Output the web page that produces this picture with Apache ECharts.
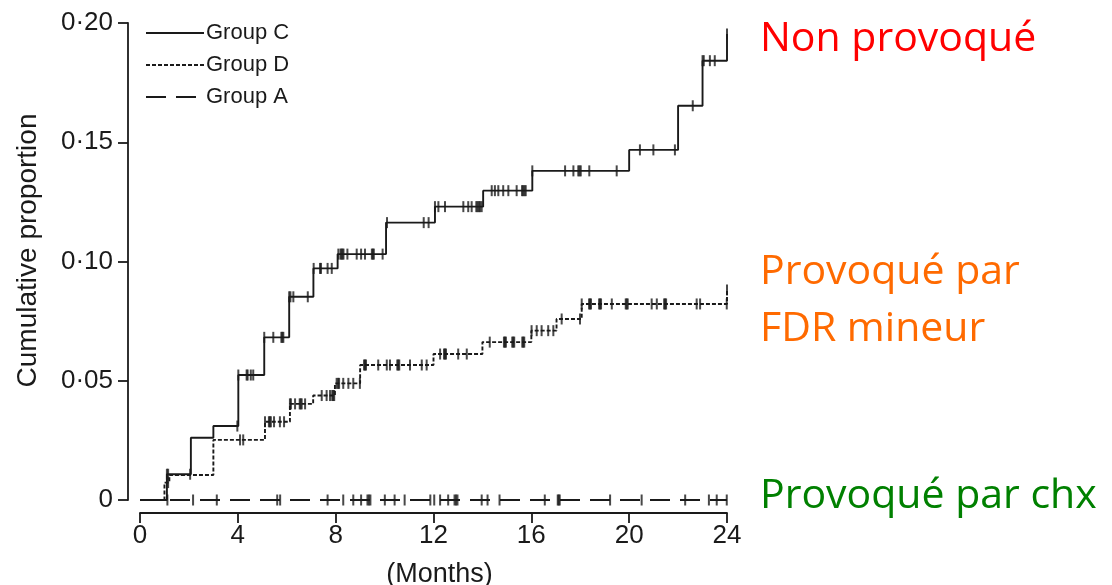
<!DOCTYPE html>
<html>
<head>
<meta charset="utf-8">
<title>Cumulative proportion</title>
<script src="https://cdn.jsdelivr.net/npm/echarts@6/dist/echarts.min.js"></script>
<style>
  html, body { margin: 0; padding: 0; background: #fff; }
  #chart { width: 1112px; height: 585px; }
</style>
</head>
<body>
<div id="chart"></div>
<script>
// step times (months) and cumulative proportion after each step
const cTimes = [0, 1.1, 2.08, 3.0, 4.02, 5.08, 6.1, 7.09, 8.08, 10.06, 12.06, 14.03, 16.04, 20.0, 22.0, 23.0, 24.0]
const cValues = [0, 0.0108, 0.0261, 0.031, 0.0524, 0.0682, 0.0852, 0.0971, 0.1031, 0.1163, 0.123, 0.1297, 0.138, 0.1468, 0.1653, 0.1842, 0.1954]

const dTimes = [0, 1.0, 1.2, 3.0, 5.11, 6.13, 7.08, 7.97, 9.0, 12.0, 14.0, 16.0, 17.03, 18.06, 24.0]
const dValues = [0, 0.0073, 0.0105, 0.0252, 0.0328, 0.0403, 0.0438, 0.0489, 0.0566, 0.0612, 0.0662, 0.071, 0.0759, 0.0822, 0.088]

const aTimes = [0, 24]
const aValues = [0, 0]

// censored observations (months)
const cCensor = [1.1, 1.15, 2.05, 3.98, 4.02, 4.36, 4.4, 4.53, 4.63, 5.08, 5.45, 5.78, 5.82, 5.86, 6.1, 6.15, 6.27, 6.86,
  7.1, 7.36, 7.4, 7.67, 7.84, 8.11, 8.2, 8.24, 8.28, 8.32, 8.48, 8.86, 9.04, 9.2, 9.48, 9.52, 9.56, 9.92, 10.1, 11.6, 11.8,
  12.06, 12.2, 12.47, 13.22, 13.42, 13.56, 13.75, 13.8, 13.85, 13.9, 13.97, 14.38, 14.51, 14.65, 14.85, 15.06, 15.4,
  15.62, 15.67, 15.72, 15.77, 16.04, 17.38, 17.72, 17.92, 17.97, 18.02, 18.37, 19.49, 20.44, 20.99, 21.87, 22.6, 23.0,
  23.05, 23.3, 23.5, 24.0]
const dCensor = [1.15, 4.09, 4.22, 5.11, 5.27, 5.31, 5.35, 5.48, 5.72, 5.89, 6.13, 6.17, 6.34, 6.53, 6.57, 6.61, 6.75,
  7.43, 7.63, 7.77, 7.86, 7.9, 7.94, 8.04, 8.1, 8.14, 8.31, 8.52, 8.72, 8.99, 9.16, 9.2, 9.24, 9.74, 10.09, 10.22, 10.52,
  10.56, 10.6, 11.04, 11.52, 11.72, 12.27, 12.43, 12.47, 12.51, 13.01, 13.36, 14.3, 14.88, 14.92, 14.96, 15.22, 15.26,
  15.3, 15.63, 15.67, 15.71, 16.01, 16.22, 16.42, 16.69, 16.9, 17.24, 17.99, 18.06, 18.36, 18.4, 18.44, 18.77, 18.81,
  18.85, 19.29, 19.86, 19.9, 19.94, 20.92, 21.13, 21.43, 21.47, 21.51, 22.76, 22.9, 23.99, 24.0]
const aCensor = [1.12, 2.17, 3.14, 5.61, 5.73, 7.67, 8.31, 8.72, 9.04, 9.3, 9.36, 9.42, 10.01, 10.41, 10.82, 11.87,
  12.03, 12.27, 12.6, 12.86, 12.92, 12.98, 13.97, 14.21, 14.7, 16.55, 17.08, 17.12, 17.16, 19.22, 20.51, 22.29, 23.26,
  23.58, 23.99]

const yTicks = ['0', '0·05', '0·10', '0·15', '0·20']

// level of a step curve at time t
const levelAt = (times, values, t) => {
  let v = values[0]
  for (let i = 0; i < times.length; i++) {
    if (times[i] <= t) v = values[i]
  }
  return v
}

const pairs = (times, values) => times.map((t, i) => [t, values[i]])
const marks = (censor, times, values) => censor.map((t) => [t, levelAt(times, values, t)])

const ink = '#1a1a1a'
const axisFont = 'Liberation Sans'

const lineSeries = (name, times, values, dash) => ({
  name: name,
  type: 'line',
  step: 'end',
  symbol: 'none',
  clip: false,
  data: pairs(times, values),
  lineStyle: { color: ink, width: 1.9, type: dash, dashOffset: 0 },
  itemStyle: { color: ink },
  z: 3,
})

const markSeries = (censor, times, values) => ({
  type: 'scatter',
  symbol: 'rect',
  symbolSize: [2, 11],
  itemStyle: { color: ink },
  data: marks(censor, times, values),
  silent: true,
  clip: false,
  z: 4,
})

const chart = echarts.init(document.getElementById('chart'))

const options = {
  animation: false,
  backgroundColor: '#fff',
  grid: { left: 140, right: 385, top: 23, bottom: 85, containLabel: false, outerBoundsMode: 'none' },
  legend: {
    data: ['Group C', 'Group D', 'Group A'],
    orient: 'vertical',
    left: 140,
    top: 17,
    itemWidth: 58,
    itemHeight: 14,
    itemGap: 10,
    itemStyle: { color: 'rgba(0,0,0,0)', borderWidth: 0, opacity: 0 },
    textStyle: { color: ink, fontSize: 22, fontFamily: axisFont, padding: [0, 0, 0, -3] },
  },
  xAxis: {
    type: 'value',
    min: 0,
    max: 24,
    interval: 4,
    offset: 13,
    name: '(Months)',
    nameLocation: 'middle',
    nameGap: 48,
    nameTextStyle: { color: ink, fontSize: 27, fontFamily: axisFont, padding: [0, 0, 0, 12] },
    axisLine: { show: true, onZero: false, lineStyle: { color: ink, width: 1.8 } },
    axisTick: { show: true, length: 10, lineStyle: { color: ink, width: 1.8 } },
    axisLabel: { color: ink, fontSize: 26, fontFamily: axisFont, margin: 10 },
    splitLine: { show: false },
  },
  yAxis: {
    type: 'value',
    min: 0,
    max: 0.2,
    interval: 0.05,
    offset: 12,
    name: 'Cumulative proportion',
    nameLocation: 'middle',
    nameRotate: 90,
    nameGap: 86,
    nameTextStyle: { color: ink, fontSize: 28, fontFamily: axisFont, padding: [0, 0, 0, 22] },
    axisLine: { show: true, onZero: false, lineStyle: { color: ink, width: 1.8 } },
    axisTick: { show: true, length: 10, lineStyle: { color: ink, width: 1.8 } },
    axisLabel: {
      color: ink,
      fontSize: 26,
      fontFamily: axisFont,
      margin: 15,
      formatter: (v) => yTicks[Math.round(v / 0.05)],
    },
    splitLine: { show: false },
  },
  series: [
    lineSeries('Group C', cTimes, cValues, 'solid'),
    lineSeries('Group D', dTimes, dValues, [4, 2]),
    lineSeries('Group A', aTimes, aValues, [20, 10]),
    markSeries(cCensor, cTimes, cValues),
    markSeries(dCensor, dTimes, dValues),
    markSeries(aCensor, aTimes, aValues),
  ],
  graphic: [
    { type: 'text', left: 760, top: 19, style: { text: 'Non provoqué', font: '41px "Open Sans"', fill: '#ff0000' } },
    { type: 'text', left: 760, top: 252, style: { text: 'Provoqué par', font: '41px "Open Sans"', fill: '#ff6a00' } },
    { type: 'text', left: 760, top: 309, style: { text: 'FDR mineur', font: '41px "Open Sans"', fill: '#ff6a00' } },
    { type: 'text', left: 760, top: 476, style: { text: 'Provoqué par chx', font: '41px "Open Sans"', fill: '#008000' } },
  ],
}

chart.setOption(options)
window.addEventListener('resize', () => chart.resize())
</script>
</body>
</html>
